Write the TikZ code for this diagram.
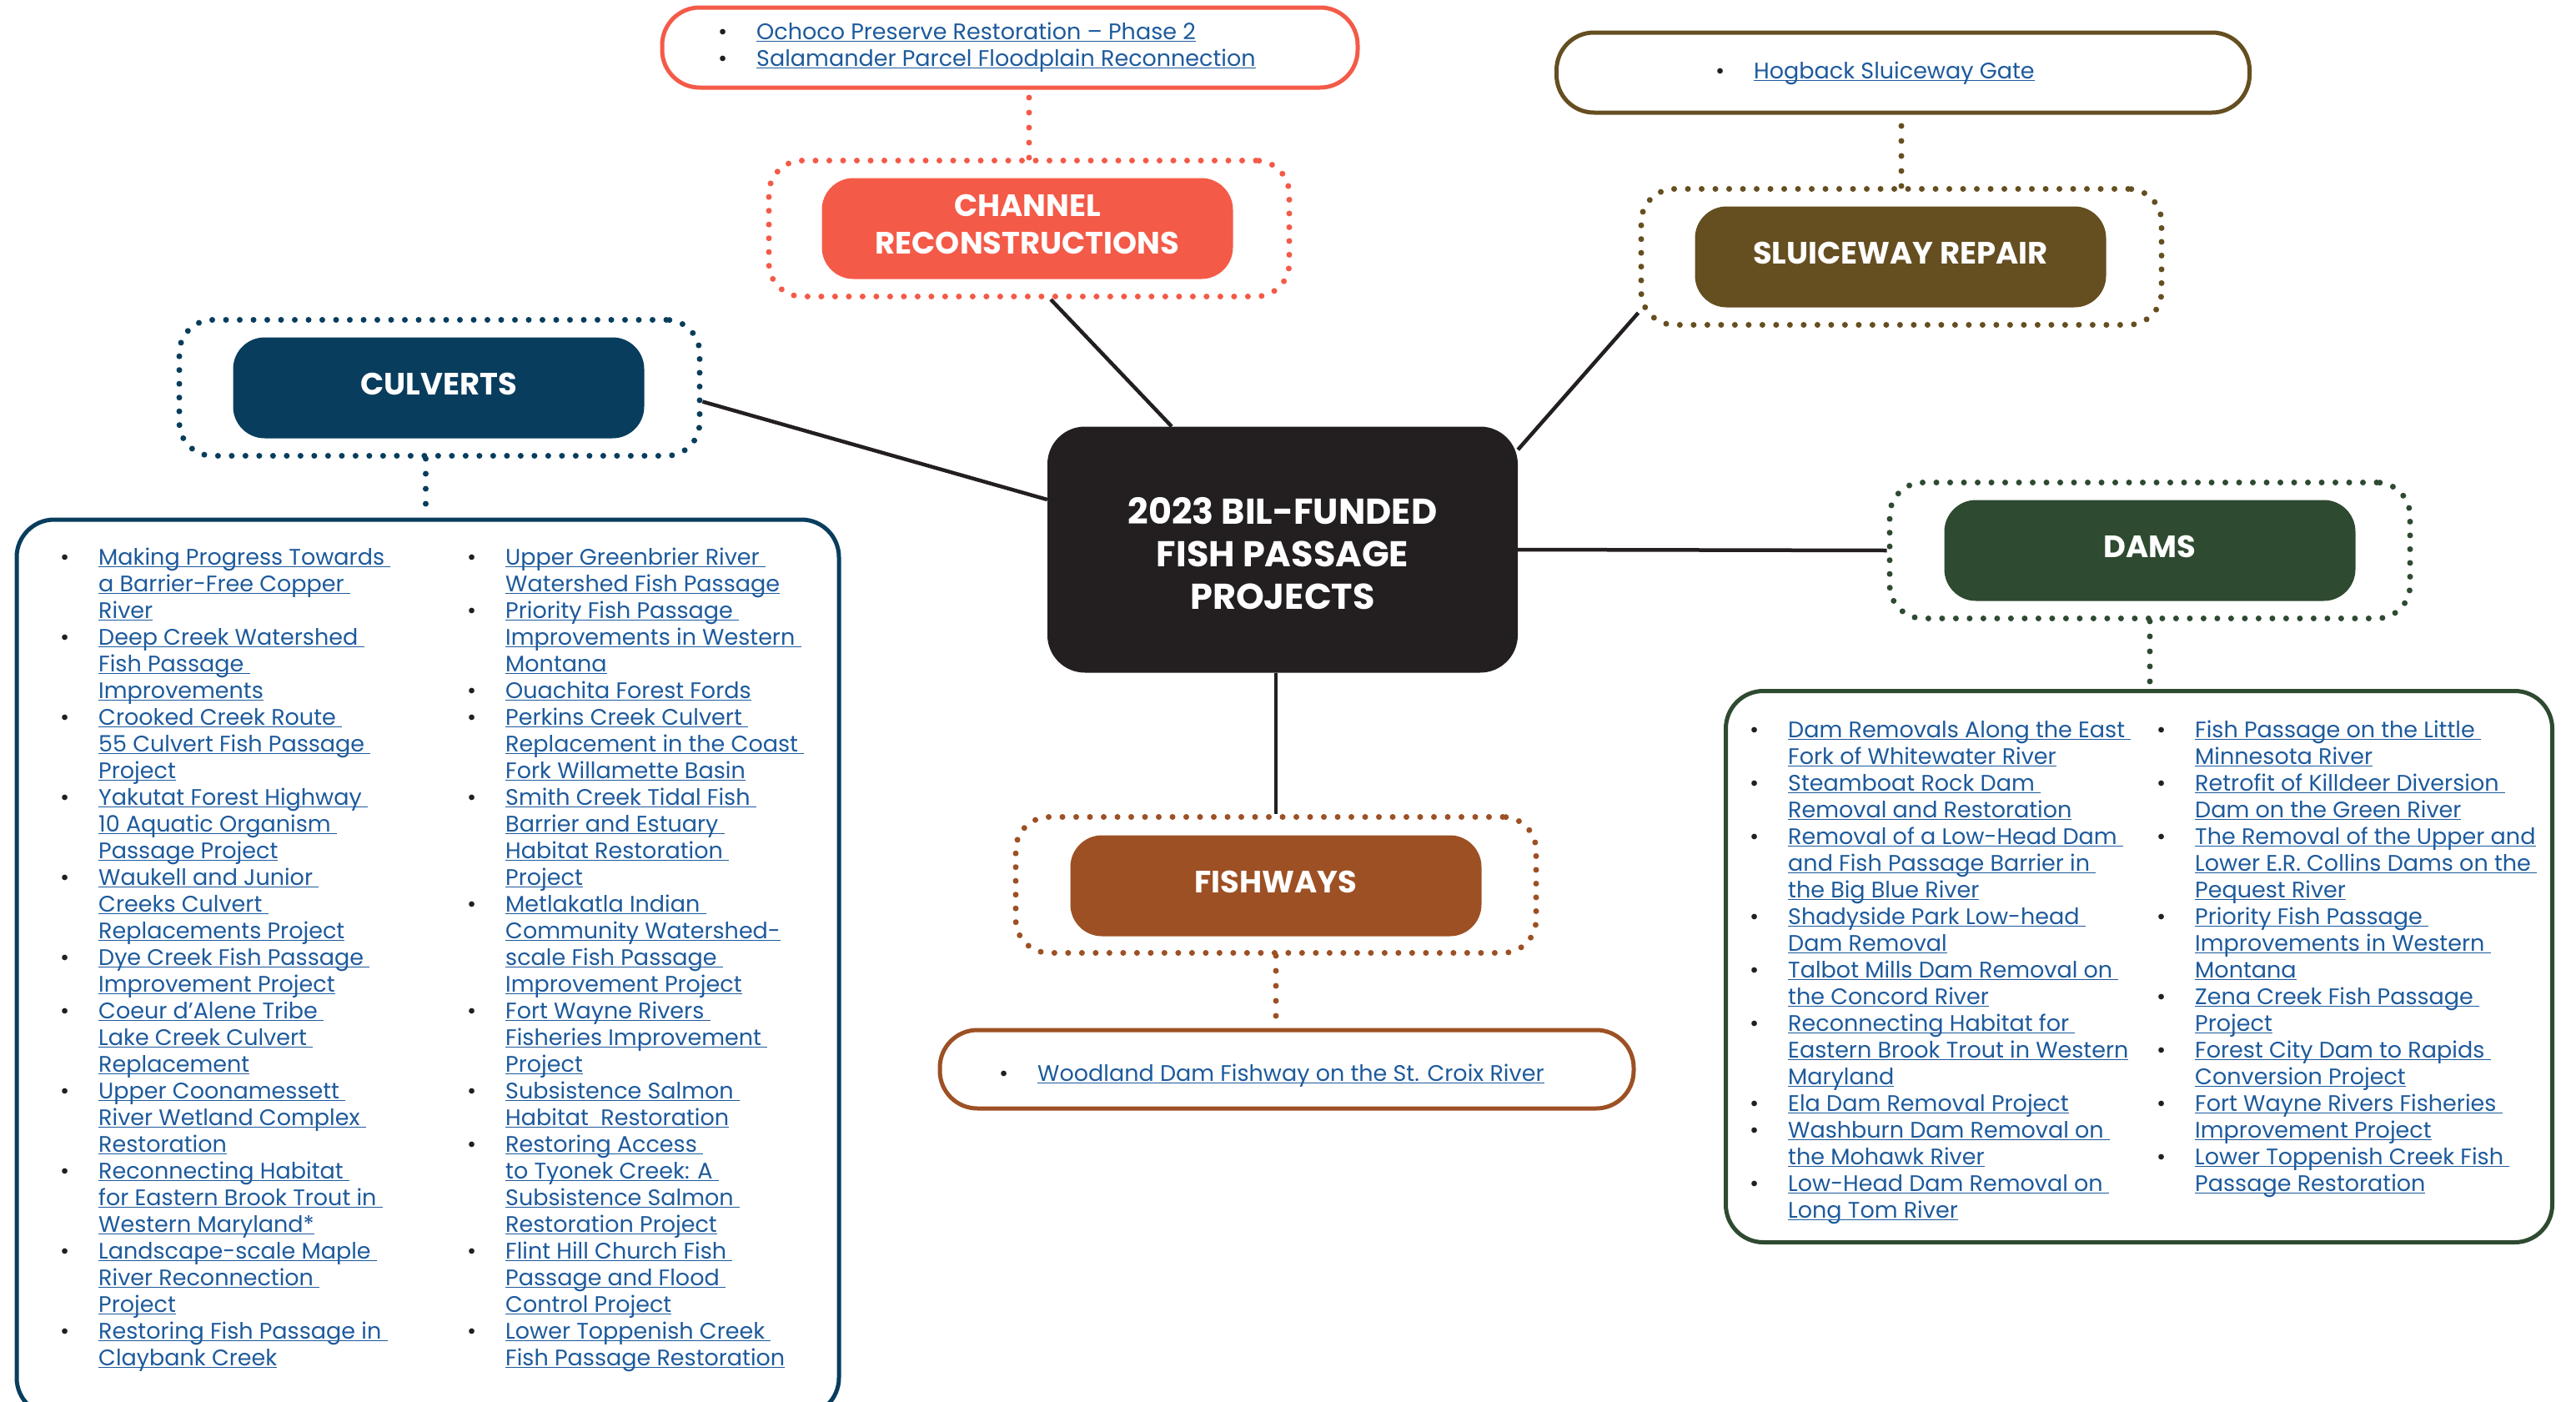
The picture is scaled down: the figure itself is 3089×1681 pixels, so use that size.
\documentclass[tikz,border=0pt]{standalone}
\usepackage{fontspec}
\setmainfont{Poppins}
\usetikzlibrary{shapes,backgrounds}

\definecolor{hubblack}{HTML}{231F20}
\definecolor{culvblue}{HTML}{083D5D}
\definecolor{chanred}{HTML}{F45A48}
\definecolor{sluicebrown}{HTML}{654E20}
\definecolor{damgreen}{HTML}{2E4A30}
\definecolor{fishrust}{HTML}{9D5024}
\definecolor{linkblue}{HTML}{1D5A9C}

\newcommand\lk[1]{\setbox0\hbox{#1}\rlap{\rule[-3.2pt]{\wd0}{1.8pt}}\box0}
\newcommand\itembul{\strut\makebox[46pt][l]{\color{hubblack}\textbullet}}
\newcommand\itemgap{\strut\hspace*{46pt}}

\begin{document}
\begin{tikzpicture}[x=1pt,y=-1pt,
  hub/.style={fill=hubblack,rounded corners=45pt,minimum width=564pt,minimum height=295pt,text=white,font=\fontsize{43}{51}\selectfont\bfseries,align=center,text height=144pt},
  cat/.style={fill=#1,rounded corners=38pt,minimum width=493pt,minimum height=121pt,text=white,font=\fontsize{37}{45}\selectfont\bfseries,align=center,text depth=10pt},
  ring/.style={draw=#1,line width=7pt,line cap=round,dash pattern=on 0pt off 16.5pt,rounded corners=40pt,minimum width=624pt,minimum height=163pt},
  listbox/.style={draw=#1,line width=5pt,rounded corners=45pt,fill=white},
  items/.style={anchor=north west,inner sep=0pt,align=left,text=linkblue,font=\fontsize{27}{32}\selectfont},
  spoke/.style={draw=hubblack,line width=4.5pt},
  dots/.style={draw=#1,line width=7pt,line cap=round,dash pattern=on 0pt off 18pt}]
\useasboundingbox (0,0) rectangle (3089,1681);
\clip (0,0) rectangle (3089,1681);

\node[hub] (hub) at (1538,659) {2023 BIL-FUNDED\\FISH PASSAGE\\PROJECTS};

\node[ring=culvblue] (culvring) at (527,465) {};
\node[cat=culvblue] (culv) at (526,465) {CULVERTS};
\node[ring=chanred] (chanring) at (1234,274) {};
\node[cat=chanred] (chan) at (1232,274) {CHANNEL\\RECONSTRUCTIONS};
\node[ring=sluicebrown] (sluicering) at (2280,308) {};
\node[cat=sluicebrown] (sluice) at (2279,308) {SLUICEWAY REPAIR};
\node[ring=damgreen] (damring) at (2578,660) {};
\node[cat=damgreen] (dam) at (2578,660) {DAMS};
\node[ring=fishrust] (fishring) at (1530,1061) {};
\node[cat=fishrust] (fish) at (1530,1062) {FISHWAYS};

\node[listbox=culvblue,minimum width=986pt,minimum height=1074pt] (culvlist) at (513,1160) {};
\node[listbox=chanred,minimum width=834pt,minimum height=96pt] (chanlist) at (1211,57) {};
\node[listbox=sluicebrown,minimum width=831pt,minimum height=96pt] (sluicelist) at (2282,87) {};
\node[listbox=damgreen,minimum width=991pt,minimum height=661pt] (damlist) at (2565,1159) {};
\node[listbox=fishrust,minimum width=832pt,minimum height=94pt] (fishlist) at (1543,1282) {};

\draw[spoke] (culvring.-3) -- (hub.168);
\draw[spoke] (chanring.-73) -- (hub.132);
\draw[spoke] (sluicering.192) -- (hub.23.5);
\draw[spoke] (hub.east) -- (damring.west);
\draw[spoke] (hub.south -| fishring.north) -- (fishring.north);

\draw[dots=culvblue] (culvring.-101) -- (culvring.-101 |- culvlist.north);
\draw[dots=chanred] (chanring.north) -- (chanring.north |- chanlist.south);
\draw[dots=sluicebrown] (sluicering.north) -- (sluicering.north |- sluicelist.south);
\draw[dots=damgreen] (damring.south) -- (damring.south |- damlist.north);
\draw[dots=fishrust] (fishring.south) -- (fishring.south |- fishlist.north);

\node[items] (chanitems) at (861,24.6) {%
\itembul\lk{Ochoco Preserve Restoration – Phase 2}\\
\itembul\lk{Salamander Parcel Floodplain Reconnection}};

\node[items] (sluiceitems) at (2057,71.6) {%
\itembul\lk{Hogback Sluiceway Gate}};

\node[items] (fishitems) at (1198,1273.6) {%
\itembul\lk{Woodland Dam Fishway on the St. Croix River}};

\node[items] (culvitemsA) at (72,654.6) {%
\itembul\lk{Making Progress Towards\ }\\
\itemgap\lk{a Barrier-Free Copper\ }\\
\itemgap\lk{River}\\
\itembul\lk{Deep Creek Watershed\ }\\
\itemgap\lk{Fish Passage\ }\\
\itemgap\lk{Improvements}\\
\itembul\lk{Crooked Creek Route\ }\\
\itemgap\lk{55 Culvert Fish Passage\ }\\
\itemgap\lk{Project}\\
\itembul\lk{Yakutat Forest Highway\ }\\
\itemgap\lk{10 Aquatic Organism\ }\\
\itemgap\lk{Passage Project}\\
\itembul\lk{Waukell and Junior\ }\\
\itemgap\lk{Creeks Culvert\ }\\
\itemgap\lk{Replacements Project}\\
\itembul\lk{Dye Creek Fish Passage\ }\\
\itemgap\lk{Improvement Project}\\
\itembul\lk{Coeur d’Alene Tribe\ }\\
\itemgap\lk{Lake Creek Culvert\ }\\
\itemgap\lk{Replacement}\\
\itembul\lk{Upper Coonamessett\ }\\
\itemgap\lk{River Wetland Complex\ }\\
\itemgap\lk{Restoration}\\
\itembul\lk{Reconnecting Habitat\ }\\
\itemgap\lk{for Eastern Brook Trout in\ }\\
\itemgap\lk{Western Maryland*}\\
\itembul\lk{Landscape-scale Maple\ }\\
\itemgap\lk{River Reconnection\ }\\
\itemgap\lk{Project}\\
\itembul\lk{Restoring Fish Passage in\ }\\
\itemgap\lk{Claybank Creek}};

\node[items] (culvitemsB) at (560,654.6) {%
\itembul\lk{Upper Greenbrier River\ }\\
\itemgap\lk{Watershed Fish Passage}\\
\itembul\lk{Priority Fish Passage\ }\\
\itemgap\lk{Improvements in Western\ }\\
\itemgap\lk{Montana}\\
\itembul\lk{Ouachita Forest Fords}\\
\itembul\lk{Perkins Creek Culvert\ }\\
\itemgap\lk{Replacement in the Coast\ }\\
\itemgap\lk{Fork Willamette Basin}\\
\itembul\lk{Smith Creek Tidal Fish\ }\\
\itemgap\lk{Barrier and Estuary\ }\\
\itemgap\lk{Habitat Restoration\ }\\
\itemgap\lk{Project}\\
\itembul\lk{Metlakatla Indian\ }\\
\itemgap\lk{Community Watershed-}\\
\itemgap\lk{scale Fish Passage\ }\\
\itemgap\lk{Improvement Project}\\
\itembul\lk{Fort Wayne Rivers\ }\\
\itemgap\lk{Fisheries Improvement\ }\\
\itemgap\lk{Project}\\
\itembul\lk{Subsistence Salmon\ }\\
\itemgap\lk{Habitat\ \ Restoration}\\
\itembul\lk{Restoring Access\ }\\
\itemgap\lk{to Tyonek Creek: A\ }\\
\itemgap\lk{Subsistence Salmon\ }\\
\itemgap\lk{Restoration Project}\\
\itembul\lk{Flint Hill Church Fish\ }\\
\itemgap\lk{Passage and Flood\ }\\
\itemgap\lk{Control Project}\\
\itembul\lk{Lower Toppenish Creek\ }\\
\itemgap\lk{Fish Passage Restoration}};

\node[items] (damitemsA) at (2098,861.6) {%
\itembul\lk{Dam Removals Along the East\ }\\
\itemgap\lk{Fork of Whitewater River}\\
\itembul\lk{Steamboat Rock Dam\ }\\
\itemgap\lk{Removal and Restoration}\\
\itembul\lk{Removal of a Low-Head Dam\ }\\
\itemgap\lk{and Fish Passage Barrier in\ }\\
\itemgap\lk{the Big Blue River}\\
\itembul\lk{Shadyside Park Low-head\ }\\
\itemgap\lk{Dam Removal}\\
\itembul\lk{Talbot Mills Dam Removal on\ }\\
\itemgap\lk{the Concord River}\\
\itembul\lk{Reconnecting Habitat for\ }\\
\itemgap\lk{Eastern Brook Trout in Western}\\
\itemgap\lk{Maryland}\\
\itembul\lk{Ela Dam Removal Project}\\
\itembul\lk{Washburn Dam Removal on\ }\\
\itemgap\lk{the Mohawk River}\\
\itembul\lk{Low-Head Dam Removal on\ }\\
\itemgap\lk{Long Tom River}};

\node[items] (damitemsB) at (2586,861.6) {%
\itembul\lk{Fish Passage on the Little\ }\\
\itemgap\lk{Minnesota River}\\
\itembul\lk{Retrofit of Killdeer Diversion\ }\\
\itemgap\lk{Dam on the Green River}\\
\itembul\lk{The Removal of the Upper and}\\
\itemgap\lk{Lower E.R. Collins Dams on the\ }\\
\itemgap\lk{Pequest River}\\
\itembul\lk{Priority Fish Passage\ }\\
\itemgap\lk{Improvements in Western\ }\\
\itemgap\lk{Montana}\\
\itembul\lk{Zena Creek Fish Passage\ }\\
\itemgap\lk{Project}\\
\itembul\lk{Forest City Dam to Rapids\ }\\
\itemgap\lk{Conversion Project}\\
\itembul\lk{Fort Wayne Rivers Fisheries\ }\\
\itemgap\lk{Improvement Project}\\
\itembul\lk{Lower Toppenish Creek Fish\ }\\
\itemgap\lk{Passage Restoration}};
\end{tikzpicture}
\end{document}
